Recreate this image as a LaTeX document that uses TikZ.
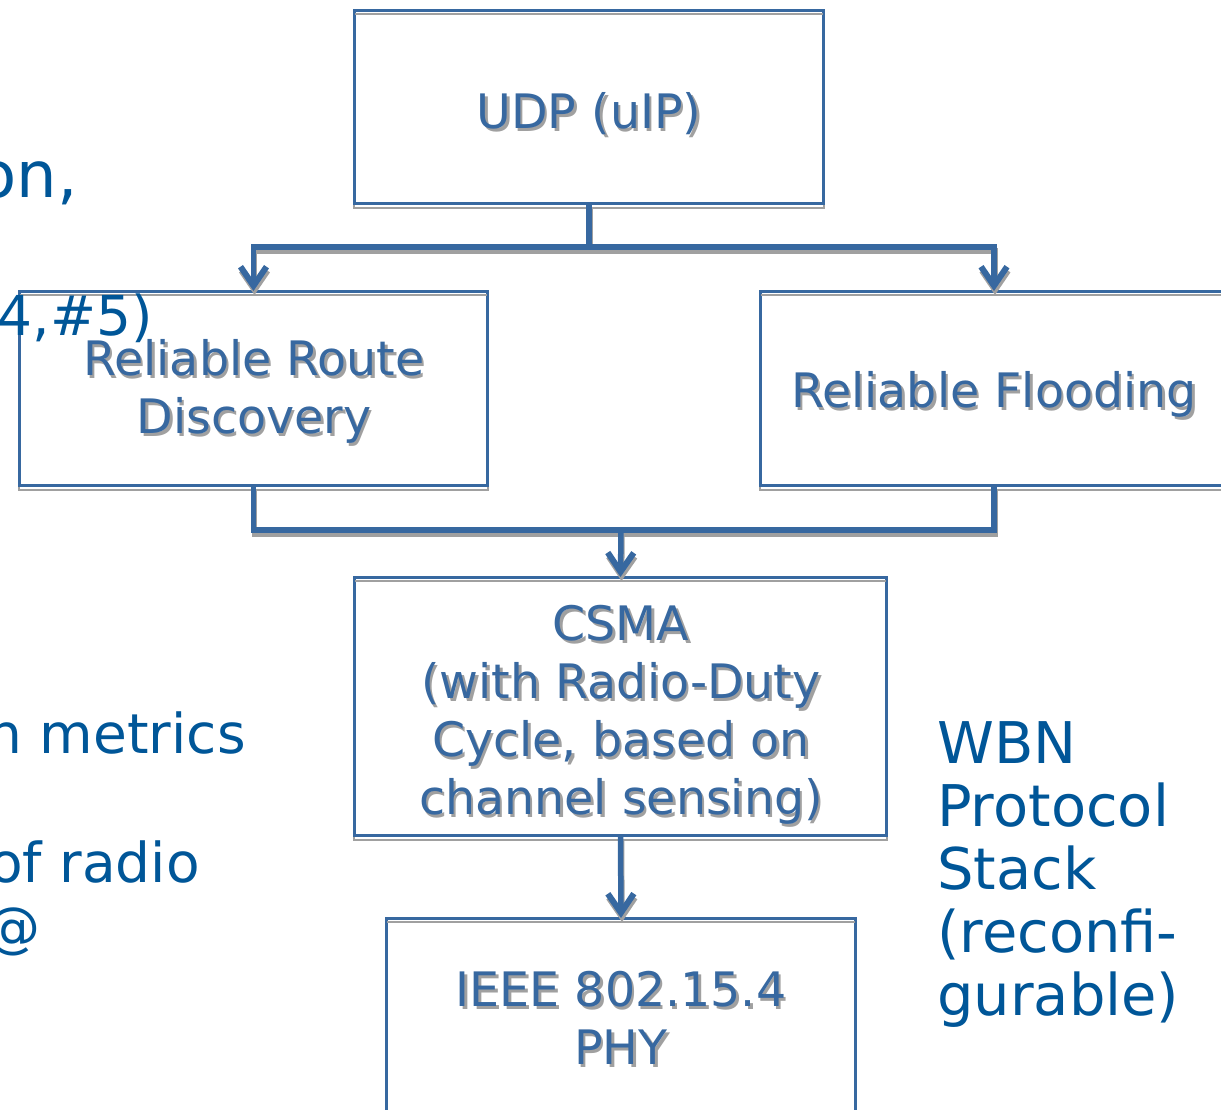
\documentclass[tikz,border=0pt]{standalone}
\usepackage{fontspec}
\setmainfont{DejaVu Sans}
\usetikzlibrary{arrows.meta,calc}
\definecolor{boxblue}{RGB}{55,104,160}
\definecolor{txtblue}{RGB}{0,86,152}
\definecolor{shgray}{RGB}{160,160,160}
\tikzset{
  box/.style={draw=boxblue, line width=2pt, rectangle, inner sep=0pt},
  boxshadow/.style={draw=shgray, line width=2pt},
  boxtxt/.style={font=\fontsize{47.5}{58}\selectfont, inner sep=0pt, anchor=base},
  conn/.style={draw=boxblue, line width=5.5pt},
  connsh/.style={draw=shgray, line width=5.5pt},
  tipped/.style={-{Straight Barb[length=19pt,width=26pt,line width=6pt]}},
  side/.style={text=txtblue, inner sep=0pt, anchor=base east, font=\fontsize{55}{63}\selectfont},
  wbn/.style={text=txtblue, inner sep=0pt, anchor=base west, font=\fontsize{57.5}{63}\selectfont},
}
\newcommand\shconn[2][]{%
  \draw[connsh,#1,transform canvas={shift={(1pt,-4pt)}}] #2;
  \draw[conn,#1] #2;}
\newcommand\shtext[3]{%
  \node[boxtxt,text=shgray] (#2s) at ($(#1)+(2.5,3)$) {#3};
  \node[boxtxt,text=boxblue] (#2) at (#1) {#3};}
\newcommand\boxshade[1]{%
  \draw[boxshadow] ([yshift=-4pt]#1.south west) rectangle ([yshift=-4pt]#1.north east);}
\begin{document}
\begin{tikzpicture}[x=1pt,y=-1pt]
\useasboundingbox (0,0) rectangle (1221,1109);
\clip (0,0) rectangle (1221,1109);

% boxes
\node[box, minimum width=468pt, minimum height=192pt] (udp) at (589,107) {};
\node[box, minimum width=467pt, minimum height=193pt] (rrd) at (253.5,388.5) {};
\node[box, minimum width=466pt, minimum height=193pt] (rf) at (994,388.5) {};
\node[box, minimum width=531pt, minimum height=257pt] (csma) at (620.5,706.5) {};
\node[box, minimum width=468pt, minimum height=193pt] (ieee) at (621,1015.5) {};
\boxshade{udp}
\boxshade{rrd}
\boxshade{rf}
\boxshade{csma}
\boxshade{ieee}
\draw[box] (udp.south west) rectangle (udp.north east);
\draw[box] (rrd.south west) rectangle (rrd.north east);
\draw[box] (rf.south west) rectangle (rf.north east);
\draw[box] (csma.south west) rectangle (csma.north east);
\draw[box] (ieee.south west) rectangle (ieee.north east);

% box texts
\shtext{589,128}{tudp}{UDP (uIP)}
\shtext{254,375}{trrda}{Reliable Route}
\shtext{254,433}{trrdb}{Discovery}
\shtext{994,407}{trf}{Reliable Flooding}
\shtext{621,640}{tcsa}{CSMA}
\shtext{621,698}{tcsb}{(with Radio-Duty}
\shtext{621,756}{tcsc}{Cycle, based on}
\shtext{621,814}{tcsd}{channel sensing)}
\shtext{621,1006}{tiea}{IEEE 802.15.4}
\shtext{621,1064}{tieb}{PHY}

% connectors
\coordinate (j1) at (589,247);
\coordinate (j2) at (621,530);
\shconn[tipped]{(udp.south) -- (j1) -| (rrd.north)}
\shconn[tipped]{(j1) -| (rf.north)}
\shconn{(rrd.south) |- (j2) -| (rf.south)}
\shconn[tipped]{(j2) -- (csma.north)}
\shconn[tipped]{(csma.south) -- (ieee.north)}

% left side (cut-off) text
\node[side, font=\fontsize{64}{70}\selectfont] (la) at (78,197) {on,};
\node[side] (lb) at (153,335) {4,\#5)};
\node[side] (lc) at (246,753) {n metrics};
\node[side] (ld) at (200,882) {of radio};
\node[side] (le) at (41,946) {@};

% right side label
\node[wbn] (wa) at (937,763) {WBN};
\node[wbn] (wb) at (937,826) {Protocol};
\node[wbn] (wc) at (937,889) {Stack};
\node[wbn] (wd) at (937,952) {(reconfi-};
\node[wbn] (we) at (937,1015) {gurable)};
\end{tikzpicture}
\end{document}
